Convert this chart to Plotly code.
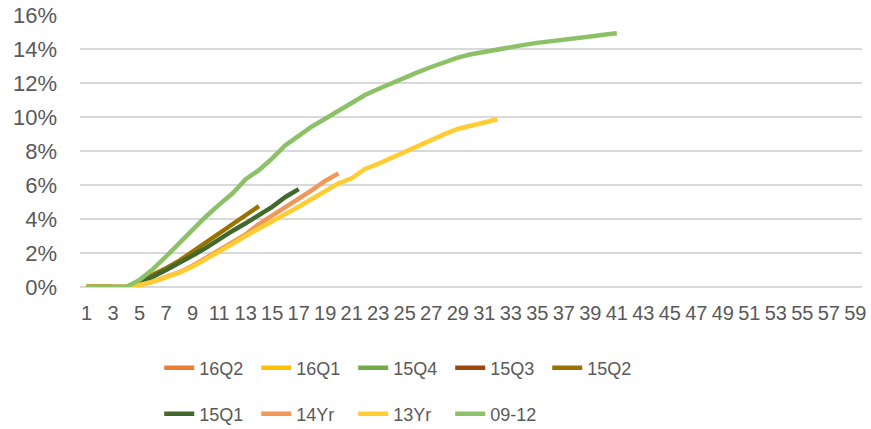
import plotly.graph_objects as go

# Series names (legend order) and colours
series_names = ["16Q2", "16Q1", "15Q4", "15Q3", "15Q2", "15Q1", "14Yr", "13Yr", "09-12"]
series_colors = ["#ED7D31", "#FFC000", "#70AD47", "#9E480E", "#997300",
                 "#43682B", "#F1975A", "#FFCD33", "#8CC168"]

# Values in percent, one per period starting at 1
s_16Q2 = [0, 0, 0]
s_16Q1 = [0, 0, 0]
s_15Q4 = [0, 0, 0]
s_15Q3 = [0, 0, 0]
s_15Q2 = [0, 0, 0, 0, 0.35, 0.7, 1.1, 1.55, 2.08, 2.57, 3.16, 3.65, 4.18, 4.76]
s_15Q1 = [0, 0, 0, 0, 0.3, 0.6, 1.0, 1.4, 1.85, 2.3, 2.82, 3.3, 3.75, 4.24, 4.72, 5.3, 5.76]
s_14Yr = [0, 0, 0, 0, 0.12, 0.32, 0.6, 0.87, 1.25, 1.7, 2.15, 2.6, 3.1, 3.7, 4.18,
          4.72, 5.2, 5.7, 6.25, 6.69]
s_13Yr = [0, 0, 0, 0, 0.1, 0.3, 0.57, 0.84, 1.2, 1.63, 2.08, 2.53, 3.0, 3.45, 3.84,
          4.3, 4.72, 5.16, 5.6, 6.1, 6.4, 6.95, 7.25, 7.6, 8.0, 8.35, 8.7, 9.0, 9.3,
          9.5, 9.68, 9.87]
s_09_12 = [0, 0, 0, 0, 0.42, 1.05, 1.8, 2.6, 3.4, 4.15, 4.85, 5.5, 6.35, 6.88, 7.57,
           8.35, 8.9, 9.45, 9.9, 10.35, 10.85, 11.3, 11.65, 12.0, 12.35, 12.65, 12.95,
           13.25, 13.5, 13.7, 13.85, 14.0, 14.12, 14.25, 14.37, 14.45, 14.57, 14.67,
           14.75, 14.85, 14.93]

series_values = [s_16Q2, s_16Q1, s_15Q4, s_15Q3, s_15Q2, s_15Q1, s_14Yr, s_13Yr, s_09_12]

x_tick_vals = list(range(1, 60, 2))
x_tick_text = [str(v) for v in x_tick_vals]
y_tick_vals = [0, 0.02, 0.04, 0.06, 0.08, 0.10, 0.12, 0.14, 0.16]

label_color = "#595959"
fig = go.Figure()
for i, (name, color, vals) in enumerate(zip(series_names, series_colors, series_values)):
    fig.add_trace(go.Scatter(
        x=list(range(1, len(vals) + 1)),
        y=[v / 100 for v in vals],
        mode="lines",
        name=name,
        line=dict(color=color, width=4.5),
        legend="legend" if i < 5 else "legend2",
        hoverinfo="skip",
    ))

legend_font = dict(family="Liberation Sans, Arial", size=18, color=label_color)
fig.update_layout(
    width=871, height=429,
    margin=dict(l=80, r=9, t=15, b=142, autoexpand=False),
    plot_bgcolor="white", paper_bgcolor="white",
    font=dict(family="Liberation Sans, Arial", color=label_color),
    legend=dict(orientation="h", x=0.1013, xanchor="left", y=-0.298, yanchor="middle",
                font=legend_font, entrywidth=52, entrywidthmode="pixels",
                bgcolor="rgba(0,0,0,0)", traceorder="normal"),
    legend2=dict(orientation="h", x=0.1013, xanchor="left", y=-0.467, yanchor="middle",
                 font=legend_font, entrywidth=52, entrywidthmode="pixels",
                 bgcolor="rgba(0,0,0,0)", traceorder="normal"),
    showlegend=True,
)
fig.update_xaxes(range=[0.5, 59.5], tickmode="array", tickvals=x_tick_vals,
                 ticktext=x_tick_text, tickangle=0, showgrid=False, zeroline=False,
                 showline=False, ticks="", ticklabelstandoff=12, automargin=False,
                 ticklabeloverflow="allow",
                 tickfont=dict(size=20, color=label_color))
fig.update_yaxes(range=[0, 0.1601], tickmode="array", tickvals=y_tick_vals,
                 tickformat=".0%", showgrid=True, gridcolor="#D9D9D9", gridwidth=1.5,
                 zeroline=True, zerolinecolor="#D9D9D9", zerolinewidth=1.5,
                 showline=False, ticks="", ticklabelstandoff=22, automargin=False,
                 tickfont=dict(size=22, color=label_color))

fig.write_html("out.html", config={"displayModeBar": False},
               post_script="document.body.style.margin='0px';document.body.style.overflow='hidden';")
